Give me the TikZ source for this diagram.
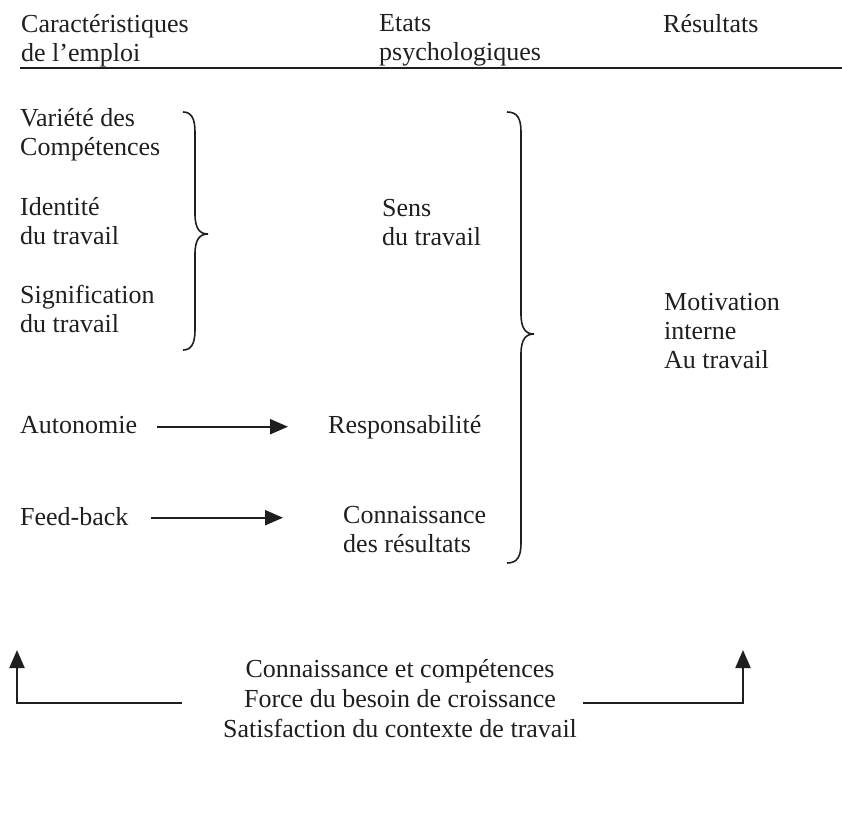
\documentclass[tikz,border=0pt]{standalone}
\usepackage{fontspec}
\setmainfont{Liberation Serif}
\usetikzlibrary{arrows.meta}
\newcommand\mybrace[6]{% x0 x1 x2 ytop ymid ybot
  \draw[bracestyle] (#1,#4) .. controls (#2-4,#4) and (#2,#4+6) .. (#2,#4+20)
    -- (#2,#5-20) .. controls (#2,#5-5) and (#2+5,#5) .. (#3,#5)
    .. controls (#2+5,#5) and (#2,#5+5) .. (#2,#5+20)
    -- (#2,#6-20) .. controls (#2,#6-6) and (#2-4,#6) .. (#1,#6);}
\begin{document}
\begin{tikzpicture}[x=1pt,y=-1pt,
  txt/.style={inner sep=0pt, font=\fontsize{26}{29}\selectfont, align=left, text=black!88},
  tl/.style={txt, anchor=north west},
  bl/.style={txt, anchor=base west},
  bracestyle/.style={line width=1.6pt, black!88},
  arr/.style={line width=2.2pt, black!88, -{Triangle[length=18pt,width=15pt]}},
  rule/.style={line width=2.5pt, black!88}]
\useasboundingbox (0,0) rectangle (842,827);
% header
\node[tl] (h1) at (21,14) {Caractéristiques\\de l’emploi};
\node[tl] (h2) at (379,14) {Etats\\psychologiques};
\node[tl] (h3) at (663,14) {Résultats};
\coordinate (rl) at (20,68);
\coordinate (rr) at (842,68);
\draw[rule] (rl) -- (rr);
% job characteristics
\node[tl] (c1) at (20,108) {Variété des\\Compétences};
\node[tl] (c2) at (20,197) {Identité\\du travail};
\node[tl] (c3) at (20,285) {Signification\\du travail};
\node[bl] (c4) at (20,433) {Autonomie};
\node[bl] (c5) at (20,525) {Feed-back};
% psychological states
\node[tl] (s1) at (382,199) {Sens\\du travail};
\node[bl] (s2) at (328,433) {Responsabilité};
\node[tl] (s3) at (343,506) {Connaissance\\des résultats};
% results
\node[tl] (r1) at (664,293) {Motivation\\interne\\Au travail};
% braces
\mybrace{183}{195}{208}{112}{234}{350}
\mybrace{507}{521}{534}{112}{334}{563}
% arrows
\draw[arr] ([xshift=20pt,yshift=4pt]c4.mid east) -- ([xshift=-40pt,yshift=4pt]s2.mid west);
\draw[arr] ([xshift=22pt,yshift=5pt]c5.mid east) -- ([xshift=-60pt,yshift=5pt]s3.west |- c5.mid east);
% moderators
\node[txt, font=\fontsize{26}{30}\selectfont, align=center, anchor=north] (m) at (400,659) {Connaissance et compétences\\Force du besoin de croissance\\Satisfaction du contexte de travail};
\coordinate (la) at (182,703);
\coordinate (lc) at (17,703);
\coordinate (lt) at (17,650);
\coordinate (ra) at (583,703);
\coordinate (rc) at (743,703);
\coordinate (rt) at (743,650);
\draw[arr] (la) -- (lc) -- (lt);
\draw[arr] (ra) -- (rc) -- (rt);
\end{tikzpicture}
\end{document}
